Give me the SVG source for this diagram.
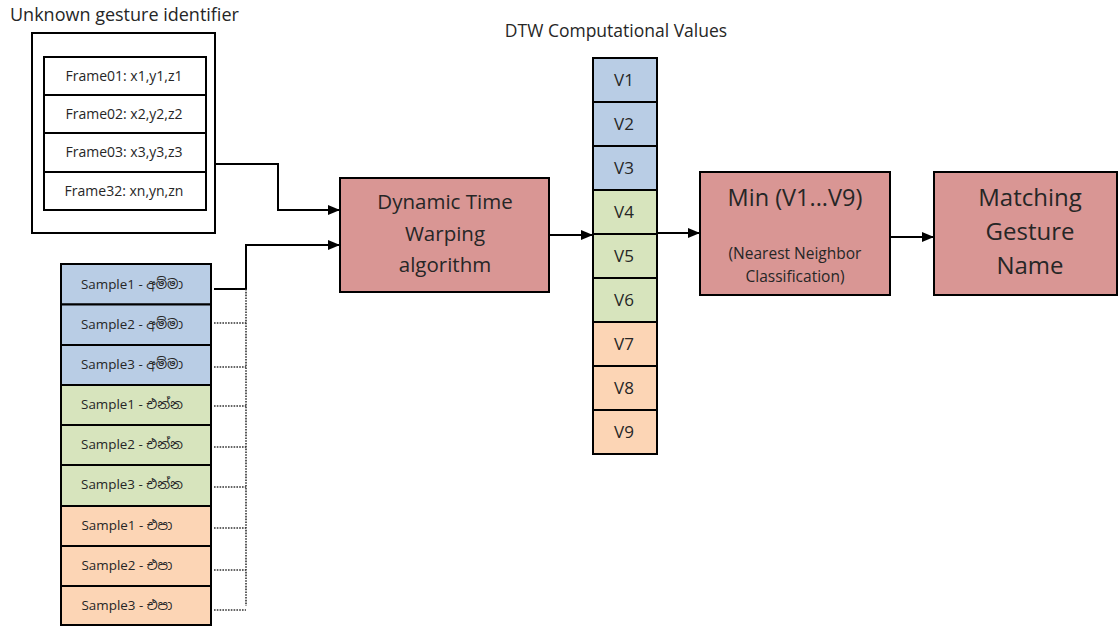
<svg xmlns="http://www.w3.org/2000/svg" width="1118" height="626" viewBox="0 0 1118 626">
<style>
text{font-family:"Open Sans","Noto Sans","Noto Sans Sinhala",sans-serif;fill:#262626;text-anchor:middle}
.box{stroke:#000;stroke-width:2}
.pink{fill:#d99694}
.blue{fill:#b9cde5}
.green{fill:#d7e4bd}
.orange{fill:#fcd5b5}
.white{fill:#fff}
.line{fill:none;stroke:#000;stroke-width:2}
.dot{fill:none;stroke:#333;stroke-width:1.6;stroke-dasharray:1.6 1.2}
.s13{font-size:14px}
.ss{font-size:13.4px}
.s14{font-size:17px}
</style>
<defs>
<marker id="arr" viewBox="0 0 12 10" refX="12" refY="5" markerWidth="12" markerHeight="10" markerUnits="userSpaceOnUse" orient="auto">
<path d="M0,0 L12,5 L0,10 z" fill="#000"/>
</marker>
</defs>

<text x="10" y="21" style="font-size:18px;text-anchor:start">Unknown gesture identifier</text>
<text x="616" y="37" style="font-size:17.5px">DTW Computational Values</text>

<g id="unknown">
<rect class="box white" x="32" y="33" width="183" height="200"/>
<rect class="box white" x="44" y="57" width="162" height="38"/>
<rect class="box white" x="44" y="95" width="162" height="38"/>
<rect class="box white" x="44" y="133" width="162" height="39"/>
<rect class="box white" x="44" y="172" width="162" height="38"/>
<text class="s13" x="124" y="81">Frame01: x1,y1,z1</text>
<text class="s13" x="124" y="119">Frame02: x2,y2,z2</text>
<text class="s13" x="124" y="157">Frame03: x3,y3,z3</text>
<text class="s13" x="124" y="196">Frame32: xn,yn,zn</text>
</g>

<g id="samples">
<rect class="box blue" x="61" y="264" width="150" height="40.5"/>
<rect class="box blue" x="61" y="304.5" width="150" height="40.5"/>
<rect class="box blue" x="61" y="345" width="150" height="40"/>
<rect class="box green" x="61" y="385" width="150" height="40"/>
<rect class="box green" x="61" y="425" width="150" height="40"/>
<rect class="box green" x="61" y="465" width="150" height="41"/>
<rect class="box orange" x="61" y="506" width="150" height="40"/>
<rect class="box orange" x="61" y="546" width="150" height="40"/>
<rect class="box orange" x="61" y="586" width="150" height="39"/>
<text class="ss" x="132" y="289">Sample1 - අම්මා</text>
<text class="ss" x="132" y="329">Sample2 - අම්මා</text>
<text class="ss" x="132" y="369">Sample3 - අම්මා</text>
<text class="ss" x="132" y="409">Sample1 - එන්න</text>
<text class="ss" x="132" y="449">Sample2 - එන්න</text>
<text class="ss" x="132" y="489">Sample3 - එන්න</text>
<text class="ss" x="127" y="530">Sample1 - එපා</text>
<text class="ss" x="127" y="570">Sample2 - එපා</text>
<text class="ss" x="127" y="610">Sample3 - එපා</text>
</g>

<g id="dtw">
<rect class="box pink" x="340" y="178" width="209" height="114"/>
<text x="445" y="209" style="font-size:20.5px">Dynamic Time</text>
<text x="445" y="241" style="font-size:20.5px">Warping</text>
<text x="445" y="272" style="font-size:20.5px">algorithm</text>
</g>

<g id="values">
<rect class="box blue" x="593" y="58" width="64" height="44"/>
<rect class="box blue" x="593" y="102" width="64" height="44"/>
<rect class="box blue" x="593" y="146" width="64" height="44"/>
<rect class="box green" x="593" y="190" width="64" height="44"/>
<rect class="box green" x="593" y="234" width="64" height="44"/>
<rect class="box green" x="593" y="278" width="64" height="44"/>
<rect class="box orange" x="593" y="322" width="64" height="44"/>
<rect class="box orange" x="593" y="366" width="64" height="44"/>
<rect class="box orange" x="593" y="410" width="64" height="44"/>
<text class="s14" x="624" y="86">V1</text>
<text class="s14" x="624" y="130">V2</text>
<text class="s14" x="624" y="174">V3</text>
<text class="s14" x="624" y="218">V4</text>
<text class="s14" x="624" y="262">V5</text>
<text class="s14" x="624" y="306">V6</text>
<text class="s14" x="624" y="350">V7</text>
<text class="s14" x="624" y="394">V8</text>
<text class="s14" x="624" y="438">V9</text>
</g>

<g id="min">
<rect class="box pink" x="700" y="172" width="190" height="123"/>
<text x="795" y="206" style="font-size:23.5px">Min (V1...V9)</text>
<text x="795" y="259" style="font-size:15.5px">(Nearest Neighbor</text>
<text x="795" y="282" style="font-size:15.5px">Classification)</text>
</g>

<g id="matching">
<rect class="box pink" x="934" y="172" width="183" height="123"/>
<text x="1030" y="206" style="font-size:24px">Matching</text>
<text x="1030" y="240" style="font-size:24px">Gesture</text>
<text x="1030" y="274" style="font-size:24px">Name</text>
</g>

<g id="connectors">
<path class="line" d="M215,164 H278 V210 H340" marker-end="url(#arr)"/>
<path class="line" d="M214,289 H246 V245 H340" marker-end="url(#arr)"/>
<path class="dot" d="M246,289 V606"/>
<path class="dot" d="M214,323 H246 M214,367 H246 M214,406 H246 M214,447 H246 M214,487 H246 M214,528 H246 M214,570 H246 M214,610 H246"/>
<path class="line" d="M549,235 H593" marker-end="url(#arr)"/>
<path class="line" d="M657,233 H700" marker-end="url(#arr)"/>
<path class="line" d="M890,237 H934" marker-end="url(#arr)"/>
</g>
</svg>
